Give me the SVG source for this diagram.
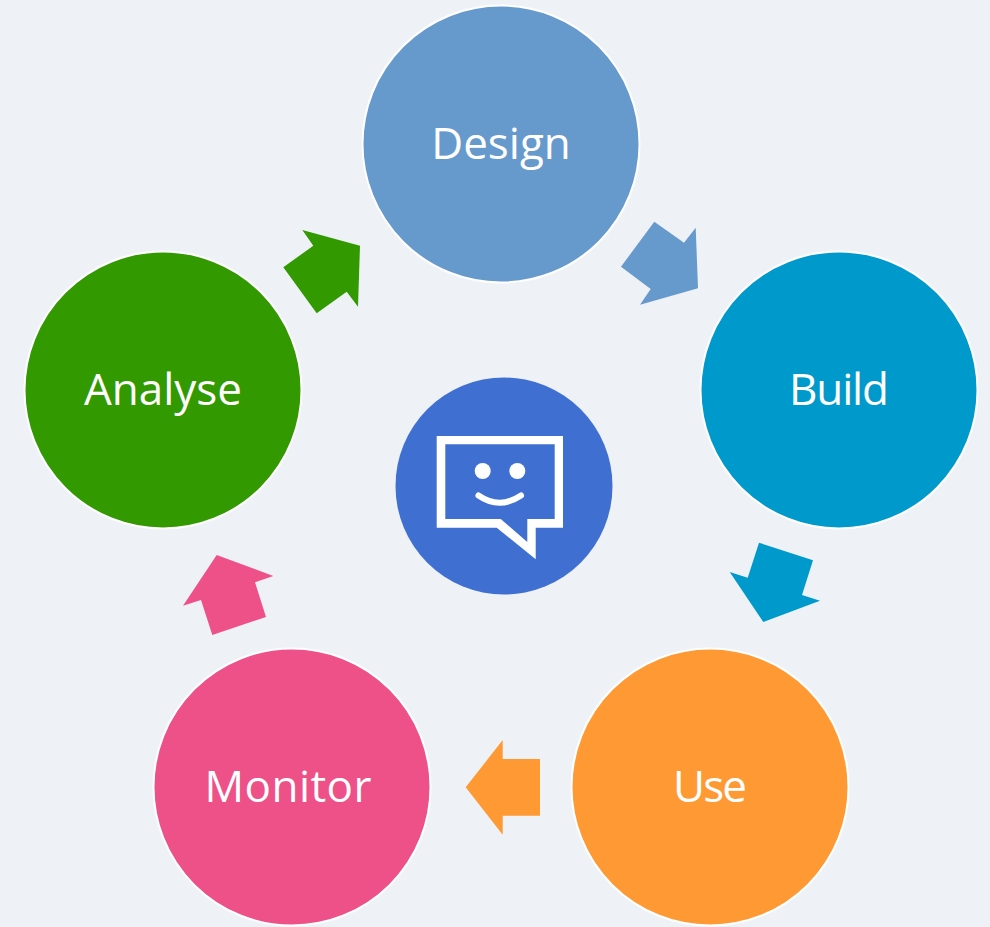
<svg xmlns="http://www.w3.org/2000/svg" width="990" height="927" viewBox="0 0 990 927">
<style>
.c{stroke:#fff;stroke-width:2}
.t{font-family:"Open Sans","Noto Sans",sans-serif;font-size:44px;fill:#fff;text-anchor:middle}
</style>
<rect width="990" height="927" fill="#eef2f7"/>
<g id="connectors">
<polygon fill="#339900" points="302.3,230 360,245.7 358,306.7 346.7,291.7 316.7,313.3 283.3,267.3 313.3,245.7"/>
<polygon fill="#6699cc" points="654.3,221.7 684,242.7 695.7,227.7 698,288.3 640,304.7 650.7,289 621,266.7"/>
<polygon fill="#0099cc" points="759,542.7 813,560.3 802,595 820,600.7 763.3,622 729.7,572 747.7,577.7"/>
<polygon fill="#ff9933" points="502.7,740 502.7,759 540,759 540,815.7 502.7,815.7 502.7,834.7 465.7,787.3"/>
<polygon fill="#ee5088" points="216.7,555 273.3,576 255,582.3 266,617 212.3,635 201,600 183,605.7"/>
</g>
<g id="design"><circle class="c" cx="501" cy="144" r="138.5" fill="#6699cc"/><text class="t" x="501" y="159">Design</text></g>
<g id="build"><circle class="c" cx="839" cy="390" r="138.5" fill="#0099cc"/><text class="t" x="839" y="405" textLength="100">Build</text></g>
<g id="use"><circle class="c" cx="710" cy="787" r="138.5" fill="#ff9933"/><text class="t" x="710" y="802" textLength="74">Use</text></g>
<g id="monitor"><circle class="c" cx="292" cy="787" r="138.5" fill="#ee5088"/><text class="t" x="288" y="802" textLength="167">Monitor</text></g>
<g id="analyse"><circle class="c" cx="163" cy="390" r="138.5" fill="#339900"/><text class="t" x="163" y="405">Analyse</text></g>
<g id="center">
<circle cx="504" cy="486" r="108.5" fill="#3f6fd1"/>
<path fill="#fff" fill-rule="evenodd" d="M436.7,436H563V527.7H535.7V559.3L496.7,527.7H436.7ZM445.3,444.3V519H500.7L527.3,542V519H554.7V444.3Z"/>
<circle cx="482.7" cy="471" r="8" fill="#fff"/>
<circle cx="517.3" cy="471" r="8" fill="#fff"/>
<path d="M478.5,495.5Q499.5,510 521,495.5" fill="none" stroke="#fff" stroke-width="6" stroke-linecap="round"/>
</g>
</svg>
